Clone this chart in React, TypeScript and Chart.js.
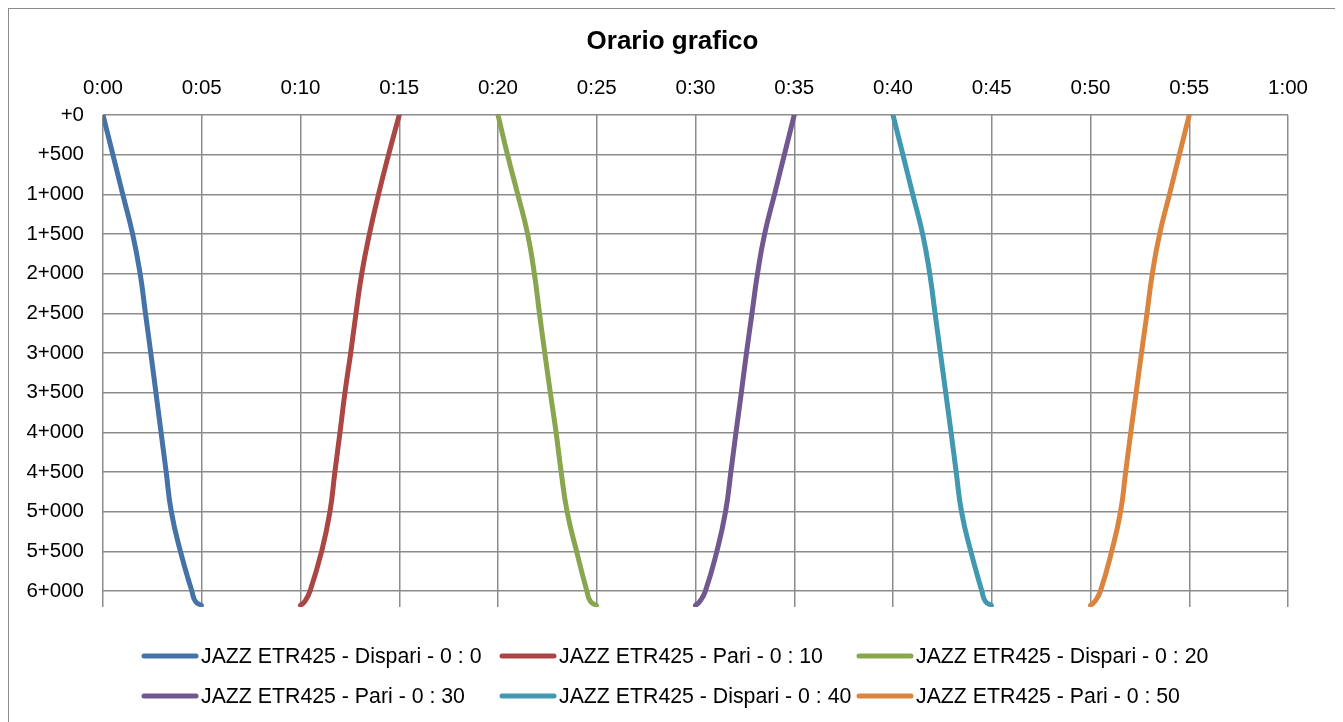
import React, { useEffect, useRef } from "react";
import { Chart, registerables } from "chart.js";

Chart.register(...registerables);

const TITLE = "Orario grafico";

const X_TICK_VALUES = [0, 5, 10, 15, 20, 25, 30, 35, 40, 45, 50, 55, 60];
const X_TICK_LABELS = ["0:00", "0:05", "0:10", "0:15", "0:20", "0:25", "0:30", "0:35", "0:40", "0:45", "0:50", "0:55", "1:00"];
const Y_TICK_VALUES = [0, 500, 1000, 1500, 2000, 2500, 3000, 3500, 4000, 4500, 5000, 5500, 6000];
const Y_TICK_LABELS = ["+0", "+500", "1+000", "1+500", "2+000", "2+500", "3+000", "3+500", "4+000", "4+500", "5+000", "5+500", "6+000"];

// distances (m) along the line
const DIST_DISPARI = [0, 500, 1000, 1500, 2000, 2500, 3000, 3500, 4000, 4500, 5000, 5500, 6000, 6130, 6180];
const DIST_PARI = [6180, 6130, 6000, 5500, 5000, 4500, 4000, 3500, 3000, 2500, 2000, 1500, 1000, 500, 0];

// times (minutes after 0:00)
const T_DISPARI_0 = [0, 0.5, 1.0, 1.5, 1.88, 2.15, 2.42, 2.68, 2.94, 3.2, 3.46, 3.92, 4.5, 4.68, 4.98];
const T_PARI_10 = [10.0, 10.22, 10.48, 11.07, 11.49, 11.74, 12.0, 12.25, 12.54, 12.81, 13.1, 13.49, 13.95, 14.46, 15.0];
const T_DISPARI_20 = [20, 20.48, 21.0, 21.5, 21.84, 22.1, 22.37, 22.65, 22.94, 23.2, 23.5, 23.98, 24.5, 24.68, 24.98];
const T_PARI_30 = [30.0, 30.22, 30.5, 31.08, 31.52, 31.79, 32.05, 32.32, 32.58, 32.86, 33.14, 33.5, 34.0, 34.5, 35.0];
const T_DISPARI_40 = [40, 40.5, 41.0, 41.5, 41.86, 42.13, 42.4, 42.67, 42.94, 43.2, 43.47, 43.94, 44.5, 44.68, 44.98];
const T_PARI_50 = [50.0, 50.22, 50.5, 51.07, 51.52, 51.78, 52.04, 52.31, 52.58, 52.86, 53.13, 53.5, 54.0, 54.5, 55.0];

const SERIES_NAMES = [
  "JAZZ ETR425 - Dispari - 0 : 0",
  "JAZZ ETR425 - Pari - 0 : 10",
  "JAZZ ETR425 - Dispari - 0 : 20",
  "JAZZ ETR425 - Pari - 0 : 30",
  "JAZZ ETR425 - Dispari - 0 : 40",
  "JAZZ ETR425 - Pari - 0 : 50",
];
const SERIES_COLORS = ["#4572A7", "#AA4643", "#89A54E", "#71588F", "#4198AF", "#DB843D"];
const SERIES_TIMES = [T_DISPARI_0, T_PARI_10, T_DISPARI_20, T_PARI_30, T_DISPARI_40, T_PARI_50];
const SERIES_DISTS = [DIST_DISPARI, DIST_PARI, DIST_DISPARI, DIST_PARI, DIST_DISPARI, DIST_PARI];

const FONT = "'Liberation Sans', Arial, sans-serif";

const titleAndLegend = {
  id: "titleAndLegend",
  beforeDraw(chart: any) {
    // outer chart frame
    const ctx = chart.ctx;
    ctx.save();
    ctx.strokeStyle = "#8a8a8a";
    ctx.lineWidth = 2;
    ctx.strokeRect(1, 1, chart.width - 2, chart.height + 20);
    ctx.restore();
  },
  afterDraw(chart: any) {
    const ctx = chart.ctx;
    ctx.save();
    // title
    ctx.fillStyle = "#000";
    ctx.font = `bold 26px ${FONT}`;
    ctx.textAlign = "center";
    ctx.textBaseline = "middle";
    ctx.fillText(TITLE, chart.width / 2, 35);

    // legend in 3 columns
    const left = chart.chartArea.left;
    const bottom = chart.chartArea.bottom;
    const cols = [left + 39, left + 397, left + 754];
    const rows = [bottom + 49, bottom + 89];
    chart.data.datasets.forEach((ds: any, i: number) => {
      const x = cols[i % 3];
      const y = rows[Math.floor(i / 3)];
      ctx.strokeStyle = ds.borderColor;
      ctx.lineWidth = 5;
      ctx.lineCap = "round";
      ctx.beginPath();
      ctx.moveTo(x + 2, y);
      ctx.lineTo(x + 54, y);
      ctx.stroke();
      ctx.fillStyle = "#000";
      ctx.font = `21.3px ${FONT}`;
      ctx.textBaseline = "middle";
      ctx.textAlign = "left";
      ctx.fillText(ds.label, x + 59, y + 1);
    });
    ctx.restore();
  },
};

export default function App() {
  const canvasRef = useRef<HTMLCanvasElement | null>(null);

  useEffect(() => {
    if (!canvasRef.current) return;
    const datasets = SERIES_NAMES.map((name, i) => ({
      label: name,
      data: SERIES_TIMES[i].map((t, j) => ({ x: t, y: SERIES_DISTS[i][j] })),
      borderColor: SERIES_COLORS[i],
      backgroundColor: SERIES_COLORS[i],
      borderWidth: 5,
      pointRadius: 0,
      tension: 0.5,
      borderCapStyle: "round" as const,
      borderJoinStyle: "round" as const,
      fill: false,
    }));

    const chart = new Chart(canvasRef.current, {
      type: "line",
      data: { datasets },
      plugins: [titleAndLegend],
      options: {
        animation: false,
        responsive: true,
        maintainAspectRatio: false,
        layout: { padding: { left: 1, right: 50, top: 61, bottom: 130 } },
        plugins: {
          legend: { display: false },
          tooltip: { enabled: false },
          title: { display: false },
        },
        scales: {
          x: {
            type: "linear",
            position: "top",
            min: 0,
            max: 60,
            afterFit: (scale: any) => {
              scale.height = 47;
            },
            afterBuildTicks: (scale: any) => {
              scale.ticks = X_TICK_VALUES.map((v) => ({ value: v }));
            },
            ticks: {
              stepSize: 5,
              color: "#000",
              padding: 14,
              maxRotation: 0,
              autoSkip: false,
              font: { family: FONT, size: 20.5 },
              callback: (value: any) => {
                const idx = X_TICK_VALUES.indexOf(Number(value));
                return idx >= 0 ? X_TICK_LABELS[idx] : "";
              },
            },
            grid: { color: "#8c8c8c", lineWidth: 1.5, drawTicks: false },
            border: { display: false },
          },
          y: {
            type: "linear",
            reverse: true,
            min: 0,
            max: 6200,
            afterFit: (scale: any) => {
              scale.width = 95;
            },
            afterBuildTicks: (scale: any) => {
              scale.ticks = Y_TICK_VALUES.map((v) => ({ value: v }));
            },
            ticks: {
              stepSize: 500,
              color: "#000",
              padding: 19,
              autoSkip: false,
              font: { family: FONT, size: 20.5 },
              callback: (value: any) => {
                const idx = Y_TICK_VALUES.indexOf(Number(value));
                return idx >= 0 ? Y_TICK_LABELS[idx] : "";
              },
            },
            grid: { color: "#8c8c8c", lineWidth: 1.5, drawTicks: false },
            border: { display: false },
          },
        },
      },
    });
    return () => chart.destroy();
  }, []);

  return (
    <div style={{ position: "relative", marginLeft: -1, marginTop: -1, width: 1331, height: 730 }}>
      <canvas ref={canvasRef} />
    </div>
  );
}
